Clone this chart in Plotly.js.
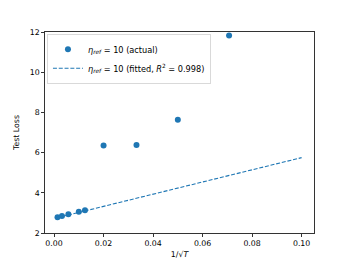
<!DOCTYPE html>
<html>
<head>
<meta charset="utf-8">
<script src="https://cdn.plot.ly/plotly-3.0.1.min.js"></script>
<style>html,body{margin:0;padding:0;background:#fff;}#chart{width:349px;height:262px;}</style>
</head>
<body>
<div id="chart"></div>
<script>
// Actual measurements: x = 1/sqrt(T), y = test loss
const actualX = [0.0014, 0.0032, 0.0058, 0.0100, 0.0125, 0.0200, 0.0333, 0.0500, 0.0707];
const actualY = [2.78, 2.85, 2.93, 3.06, 3.13, 6.35, 6.38, 7.64, 11.82];
// Fitted line endpoints
const fitX = [0.001, 0.100];
const fitY = [2.75, 5.75];
const xTicks = [0, 0.02, 0.04, 0.06, 0.08, 0.10];
const xTickLabels = ['0.00', '0.02', '0.04', '0.06', '0.08', '0.10'];
const yTicks = [2, 4, 6, 8, 10, 12];

const blue = '#1f77b4';
const font = {family: 'DejaVu Sans', size: 7.8, color: '#000'};
const legendFont = {family: 'DejaVu Sans', size: 8.2, color: '#000'};

const traces = [
  {
    x: actualX, y: actualY, type: 'scatter', mode: 'markers',
    name: '<i>η</i><sub><i>ref</i></sub> = 10 (actual)',
    marker: {color: blue, size: 6}
  },
  {
    x: fitX, y: fitY, type: 'scatter', mode: 'lines',
    name: '<i>η</i><sub><i>ref</i></sub> = 10 (fitted, <i>R</i><sup>2</sup> = 0.998)',
    line: {color: blue, width: 1.1, dash: '4px,1.8px'}
  }
];

const axisCommon = {
  showgrid: false, zeroline: false, showline: true, mirror: true,
  linecolor: '#000', linewidth: 0.8, ticks: 'outside', ticklen: 3,
  tickwidth: 0.8, tickcolor: '#000', tickfont: font
};

const layout = {
  width: 349, height: 262,
  margin: {l: 45, r: 35, t: 32, b: 29, pad: 0},
  paper_bgcolor: '#fff', plot_bgcolor: '#fff',
  font: font,
  showlegend: true,
  xaxis: Object.assign({}, axisCommon, {
    range: [-0.00365, 0.105], tickvals: xTicks, ticktext: xTickLabels,
    title: {text: '1/√<i>T</i>', font: font, standoff: 4}
  }),
  yaxis: Object.assign({}, axisCommon, {
    range: [2, 12], tickvals: yTicks,
    title: {text: 'Test Loss', font: font, standoff: 8}
  }),
  legend: {
    x: 0.008, y: 0.99, xanchor: 'left', yanchor: 'top',
    bgcolor: 'rgba(255,255,255,0.8)', bordercolor: '#d0d0d0', borderwidth: 0.8,
    font: legendFont, itemwidth: 30, tracegroupgap: 0
  }
};

Plotly.newPlot('chart', traces, layout, {displayModeBar: false, staticPlot: true});
</script>
</body>
</html>
